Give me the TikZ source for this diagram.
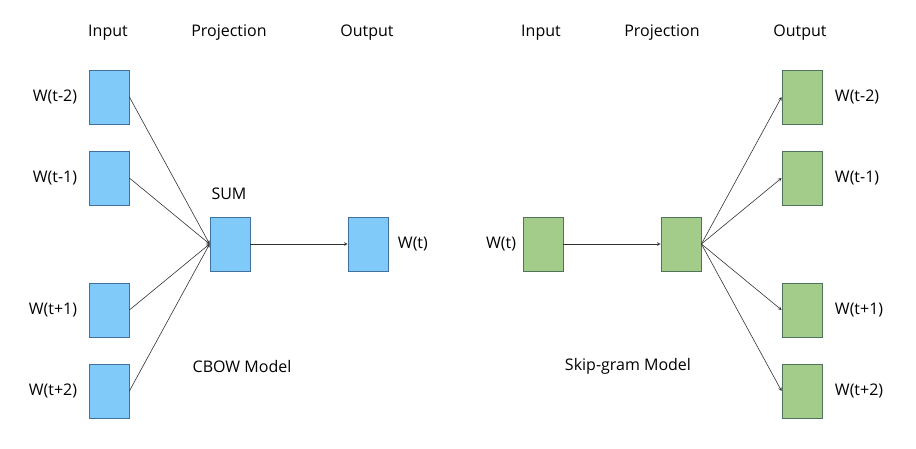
\documentclass[tikz,border=0pt]{standalone}
\usepackage{fontspec}
\setmainfont{Open Sans}
\usepackage{xcolor}
\usepackage{tikz}
\usetikzlibrary{arrows}
\definecolor{cbowfill}{HTML}{80CAFA}
\definecolor{cbowline}{HTML}{41719C}
\definecolor{skipfill}{HTML}{A3CB8A}
\definecolor{skipline}{HTML}{50735C}
\tikzstyle{arrow} = [->,>=stealth,line width=0.6pt,draw=black!80]
\tikzstyle{vec} = [draw,line width=0.8pt,minimum width=40pt,minimum height=54pt,inner sep=0pt]
\tikzstyle{cbow} = [vec,fill=cbowfill,draw=cbowline]
\tikzstyle{skip} = [vec,fill=skipfill,draw=skipline]

\begin{document}
\begin{tikzpicture}[x=1pt,y=-1pt,font=\fontsize{16}{19}\selectfont]
	\useasboundingbox (0,0) rectangle (916,448);
	\begin{scope}
	% CBOW model:
	% Headers of the three columns
	\node (cbowIn) at (108,33) {Input};
	\node (cbowProj) at (229,33) {Projection};
	\node (cbowOut) at (367,33) {Output};
	
	% Projection and output vectors
	\node [cbow] (sum) at (230,244) {};
	\node (sumlbl) at (229,194) {SUM};
	\node [cbow] (cbowW) at (368,244) {};
	\node [right=6pt] (cbowWlbl) at (cbowW.east) {W(t)};
	\draw [arrow] (sum.east) -- (cbowW.west);
	
	% Context words, all summed into the projection
	\foreach \n/\y/\w in {a/97/t-2,b/178/t-1,c/310/t+1,d/391/t+2}{%
		\node [cbow] (cin\n) at (109,\y) {};
		\node [left=8pt] (cin\n lbl) at (cin\n.west) {W(\w)};
		\draw [arrow] (cin\n.east) -- (sum.west);
	}
	
	\node (cbowname) at (242,366) {CBOW Model};
	\end{scope}
	
	\begin{scope}
	% Skip-gram model:
	\node (skipIn) at (541,33) {Input};
	\node (skipProj) at (662,33) {Projection};
	\node (skipOut) at (800,33) {Output};
	
	\node [skip] (skipW) at (543,244) {};
	\node [left=3pt] (skipWlbl) at (skipW.west) {W(t)};
	\node [skip] (proj) at (681,244) {};
	\draw [arrow] (skipW.east) -- (proj.west);
	
	% Context words predicted from the projection
	\foreach \n/\y/\w in {a/97/t-2,b/178/t-1,c/310/t+1,d/391/t+2}{%
		\node [skip] (sout\n) at (802,\y) {};
		\node [right=9pt] (sout\n lbl) at (sout\n.east) {W(\w)};
		\draw [arrow] (proj.east) -- (sout\n.west);
	}
	
	\node (skipname) at (628,366) {Skip-gram Model};
	\end{scope}
\end{tikzpicture}
\end{document}
